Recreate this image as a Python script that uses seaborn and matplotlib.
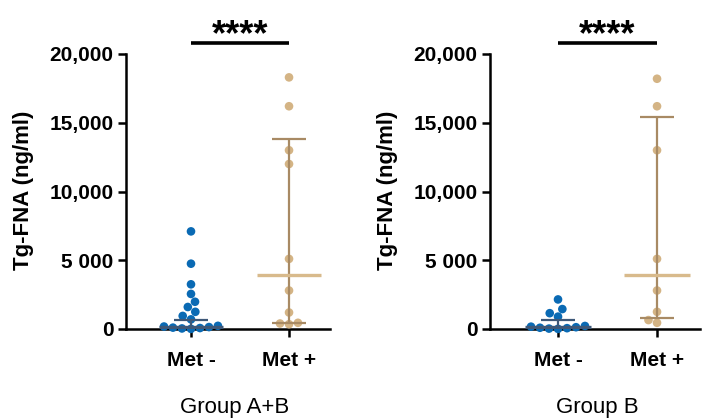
import numpy as np
import pandas as pd
import matplotlib
matplotlib.use("Agg")
import matplotlib.pyplot as plt
import seaborn as sns

# ---------------- data (ng/ml) ----------------
categories = ["Met -", "Met +"]
panel_titles = ["Group A+B", "Group B"]

ab_met_neg = [7100, 4750, 3250, 2550, 1980, 1600, 1250, 950, 700,
              230, 180, 140, 100, 70, 40, 10]
ab_met_pos = [18300, 16200, 13000, 12000, 5100, 2800, 1200, 450, 350, 400]

b_met_neg = [2150, 1450, 1150, 900,
             220, 170, 130, 90, 60, 30, 10]
b_met_pos = [18200, 16200, 13000, 5100, 2800, 1250, 450, 650]

# median and interquartile range drawn on each group
ab_median = [150, 3950]
ab_q1 = [50, 440]
ab_q3 = [630, 13800]
b_median = [120, 3950]
b_q1 = [40, 800]
b_q3 = [680, 15450]

yticks = [0, 5000, 10000, 15000, 20000]
ytick_labels = ["0", "5 000", "10,000", "15,000", "20,000"]
significance = "****"

# ---------------- style ----------------
sns.set_style("ticks")
plt.rcParams["font.family"] = ["Liberation Sans", "DejaVu Sans"]
for k in ["text.color", "axes.labelcolor", "xtick.color", "ytick.color", "axes.edgecolor"]:
    plt.rcParams[k] = "black"

blue = "#0A6AB4"
tan = "#D4B485"
blue_line = "#3E5878"
tan_line = "#A88A64"
tan_med = "#D8BA8C"

fig = plt.figure(figsize=(7.12, 4.2), dpi=100)

panels = [
    dict(data=(ab_met_neg, ab_met_pos), stats=(ab_median, ab_q1, ab_q3),
         rect=[126 / 712, 1 - 329 / 420, 204 / 712, 275 / 420],
         xlim=(-0.663, 1.418), title=panel_titles[0], tx=235 / 712, ylab_x=-0.45),
    dict(data=(b_met_neg, b_met_pos), stats=(b_median, b_q1, b_q3),
         rect=[490 / 712, 1 - 329 / 420, 210 / 712, 275 / 420],
         xlim=(-0.687, 1.434), title=panel_titles[1], tx=597 / 712, ylab_x=-0.44),
]

for p in panels:
    ax = fig.add_axes(p["rect"])
    neg, pos = p["data"]
    df = pd.DataFrame({
        "group": [categories[0]] * len(neg) + [categories[1]] * len(pos),
        "value": list(neg) + list(pos),
    })
    sns.swarmplot(data=df, x="group", y="value", hue="group", order=categories,
                  palette={categories[0]: blue, categories[1]: tan}, size=6.2,
                  linewidth=0, legend=False, ax=ax, clip_on=False, zorder=3,
                  warn_thresh=1.0)

    med, q1, q3 = p["stats"]
    for i, (lc, mc) in enumerate([(blue_line, blue_line), (tan_line, tan_med)]):
        ax.vlines(i, q1[i], q3[i], color=lc, lw=1.6, zorder=4)
        ax.hlines([q1[i], q3[i]], i - 0.17, i + 0.17, color=lc, lw=1.6, zorder=4)
        ax.hlines(med[i], i - 0.33, i + 0.33, color=mc, lw=2.4, zorder=4)

    ax.set_xlim(*p["xlim"])
    ax.set_ylim(0, 20000)
    ax.set_yticks(yticks)
    ax.set_yticklabels(ytick_labels)
    ax.set_xlabel("")
    ax.set_ylabel("Tg-FNA (ng/ml)", fontsize=16, fontweight="bold")
    ax.yaxis.set_label_coords(p["ylab_x"], 0.505)
    for s in ["top", "right"]:
        ax.spines[s].set_visible(False)
    for s in ["left", "bottom"]:
        ax.spines[s].set_linewidth(1.8)
        ax.spines[s].set_color("black")
    ax.tick_params(axis="both", width=1.8, length=6, color="black", labelsize=15)
    ax.tick_params(axis="y", pad=3)
    ax.tick_params(axis="x", pad=10)
    for lab in ax.get_xticklabels() + ax.get_yticklabels():
        lab.set_fontweight("bold")

    # significance bar
    ax.plot([0, 1], [20800, 20800], color="black", lw=2.6, clip_on=False,
            solid_capstyle="butt")
    ax.text(0.5, 21350, significance, ha="center", va="center", fontsize=26,
            fontweight="bold", clip_on=False)

    fig.text(p["tx"], 1 - 408 / 420, p["title"], ha="center", va="center", fontsize=16)

fig.savefig("out.png", dpi=100)
